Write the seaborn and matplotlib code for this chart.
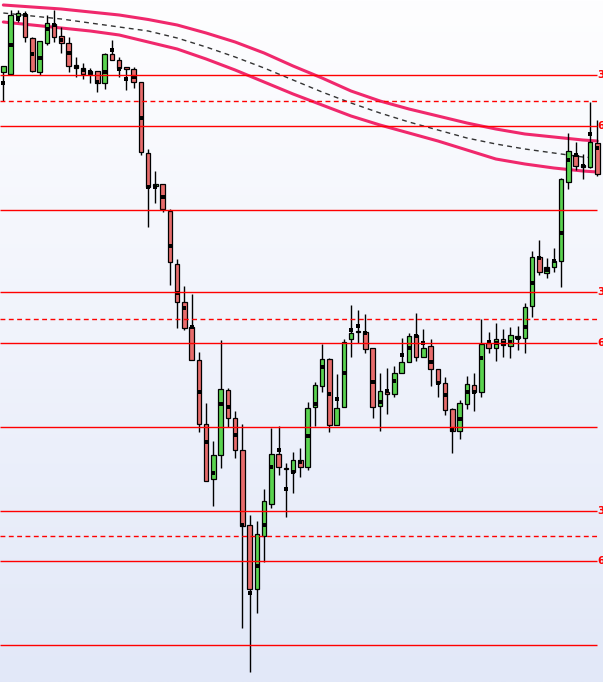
import numpy as np
import pandas as pd
import matplotlib
matplotlib.use("Agg")
import matplotlib.pyplot as plt
import seaborn as sns
from matplotlib.colors import LinearSegmentedColormap

# ---- candle data (price units) ----
opens = [628, 626, 684, 686, 662, 628, 657, 676, 664, 657, 632, 632, 626, 629, 617, 646, 640, 632, 631, 618,
         547, 514, 516, 489, 436, 398, 373, 340, 276, 221, 245, 310, 282, 250, 175, 111, 164, 196, 246, 231.5,
         228, 240, 233, 293, 314, 341, 275, 293, 361, 368.5, 368, 352, 294, 308, 306, 327, 338, 365, 343, 354,
         331, 317, 291, 269, 296, 315, 308, 357, 352, 361, 354, 364, 362, 394, 443, 427, 433, 439, 518, 545,
         535, 533, 557]
highs = [634, 690, 690, 689, 663, 659, 685, 690, 673, 663, 643, 637, 632, 629, 647, 660, 643, 632, 633, 618,
         551, 529, 516, 491, 441, 414, 406, 348, 297, 259, 360, 312, 289, 276, 185, 179, 211, 272, 274, 237,
         248, 252, 298, 318, 356, 342, 326, 361, 395, 390, 386, 352, 327, 332, 334, 362, 367, 387, 371, 361,
         331, 323, 292, 300, 324, 327, 381, 368, 377, 371, 373, 374, 397, 449, 460, 442, 452, 522, 567, 558,
         546, 598, 580]
lows = [599, 625, 678, 658, 628, 625, 655, 658, 647, 628, 623, 621, 617, 608, 611, 640, 623, 610, 612, 545,
        473, 497, 488, 415, 372, 370, 340, 268, 219, 194, 232, 273, 242, 72, 28, 87, 138, 192, 225, 183,
        207, 223, 230, 274, 308, 268, 275, 293, 343, 357, 347, 282, 269, 286, 303, 327, 338, 339, 343, 314,
        303, 285, 247, 261, 291, 289, 303, 347, 339, 343, 342, 350, 347, 383, 425, 422, 428, 413, 511, 530,
        521, 532, 524]
closes = [634, 685, 687, 663, 629, 659, 677, 663, 657, 634, 635, 626, 629, 617, 646, 640, 632, 631.5, 618, 548,
          513, 516, 491, 438, 398, 372, 340, 276, 219, 245, 311, 282, 250, 174, 111, 166, 199, 246, 233, 231,
          240, 233, 292, 315, 341, 275, 292, 358, 367, 368, 351, 293, 309, 306, 327, 338, 364, 343, 352, 331,
          317, 290, 269, 297, 316, 308, 356, 352, 361, 355, 365, 362, 393, 443, 428, 433, 439, 521, 549, 534,
          533.5, 558, 526]
marks = [617, 655, 681, 685, 646, 642, 671, 675, 660, 647, 633, 630, 628, 618, 628, 650, 631, 621, 623, 582,
         513, 513, 503, 454, 407, 392, 373, 308, 258, 227, 296, 293, 265, 175, 107, 134, 175, 233, 250, 211,
         228, 238, 264, 296, 333, 306, 301, 327, 370, 374, 367, 318, 298, 309, 319, 345, 352, 364, 357, 338,
         317, 305, 270, 281, 308, 308, 342, 358, 357, 357, 358, 362, 373, 417, 442, 430, 439, 467, 540, 545,
         534, 566, 552]

# ---- overlay curves (read every 4 bars) ----
curve_idx = [0, 4, 8, 12, 16, 20, 24, 28, 32, 36, 40, 44, 48, 52, 56, 60, 64, 68, 72, 76, 80, 82]
upper_band = [695, 693, 691, 688, 685, 680.5, 675, 667, 658, 647, 634, 622, 609, 599, 591, 584, 577, 571, 566,
              563, 560, 559]
lower_band = [678, 675, 672, 669, 665, 658, 651, 641, 630, 618, 606, 595, 584, 575, 567, 559, 550, 541, 536,
              532, 529, 528]
mid_avg = [687, 684, 681, 677, 673, 669, 662, 653, 643, 632, 620, 608, 597, 587, 578, 570, 562, 556, 551, 547,
           543, 542]

# ---- horizontal levels ----
solid_levels = [625, 574, 490, 408, 357, 273, 189, 139, 55]
dashed_levels = [599, 381, 164]
label_levels = [625, 574, 408, 357, 189, 139]
level_labels = ["3", "6", "3", "6", "3", "6"]

sns.set_theme(style="white")

fig = plt.figure(figsize=(6.03, 6.82), dpi=100)
ax = fig.add_axes([0, 0, 1, 1])
xmin, xmax = -0.46, 82.79
ymin, ymax = 18, 700

# background gradient
grad = np.linspace(0, 1, 256).reshape(-1, 1)
cmap = LinearSegmentedColormap.from_list("bg", ["#fefeff", "#e2e8f8"])
ax.imshow(grad, cmap=cmap, aspect="auto", extent=[xmin, xmax, ymin, ymax], zorder=0)

curves = pd.DataFrame({"i": curve_idx, "upper": upper_band, "lower": lower_band, "mid": mid_avg})
sns.lineplot(data=curves, x="i", y="upper", ax=ax, color="#f0286c", lw=2.2, zorder=2)
sns.lineplot(data=curves, x="i", y="lower", ax=ax, color="#f0286c", lw=2.2, zorder=2)
ax.plot(curves["i"], curves["mid"], color="#333333", lw=1.0, linestyle=(0, (3.5, 3)), zorder=2)

# candles
n = len(opens)
x = np.arange(n)
o = np.array(opens, float)
c = np.array(closes, float)
colors = np.where(c > o, "#5ad34f", "#e76c6c")
ax.vlines(x, lows, highs, color="black", lw=1.0, zorder=3)
body_h = np.maximum(np.abs(c - o), 1.2)
ax.bar(x, body_h, bottom=np.minimum(o, c), width=0.62, color=colors, edgecolor="black", linewidth=0.9, zorder=4)
sns.scatterplot(x=x, y=marks, ax=ax, marker="s", s=8, color="black", linewidth=0, zorder=5)

# levels
ax.hlines(solid_levels, xmin, 82.0, color="#ff0000", lw=1.0, zorder=6)
ax.hlines(dashed_levels, xmin, 82.0, color="#ff0000", lw=1.0, linestyles=(0, (3.5, 2.5)), zorder=6)
for lv, lb in zip(label_levels, level_labels):
    ax.text(82.0, lv, lb, color="#ff0000", fontsize=7.5, fontweight="bold", ha="left", va="center", zorder=7)

ax.set_xlim(xmin, xmax)
ax.set_ylim(ymin, ymax)
ax.axis("off")

fig.savefig("out.png", dpi=100)
